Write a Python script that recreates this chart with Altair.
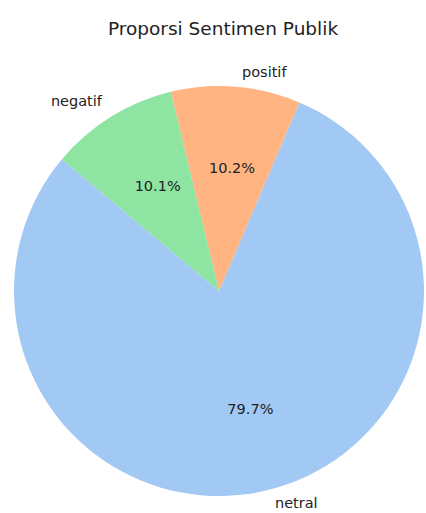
import altair as alt
import pandas as pd

labels = ["netral", "positif", "negatif"]
values = [79.7, 10.2, 10.1]
colors = ["#a1c9f4", "#ffb482", "#8de5a1"]
START_DEG = 140

df = pd.DataFrame({"label": labels, "value": values, "idx": list(range(len(labels)))})

FONT = "DejaVu Sans"
R = 205

base = alt.Chart(df).transform_window(
    cum="sum(value)", sort=[alt.SortField("idx")], frame=[None, 0]
).transform_joinaggregate(
    total="sum(value)"
).transform_calculate(
    a0=f"{START_DEG} + (datum.cum - datum.value) / datum.total * 360",
    a1=f"{START_DEG} + datum.cum / datum.total * 360",
).transform_calculate(
    t0="(90 - datum.a1) * PI / 180",
    t1="(90 - datum.a0) * PI / 180",
    tm="(90 - (datum.a0 + datum.a1) / 2) * PI / 180",
    pct="format(datum.value / datum.total * 100, '.1f') + '%'",
).transform_calculate(
    side="sin(datum.tm) >= 0 ? 'right' : 'left'"
)

arcs = base.mark_arc(outerRadius=R).encode(
    theta=alt.Theta("t0:Q", scale=None),
    theta2="t1:Q",
    color=alt.Color("label:N", scale=alt.Scale(domain=labels, range=colors), legend=None),
)

lab_right = base.transform_filter("datum.side == 'right'").mark_text(
    radius=219, align="left", baseline="middle", fontSize=14.5, font=FONT, color="#222", dx=5
).encode(theta=alt.Theta("tm:Q", scale=None), text="label:N")

lab_left = base.transform_filter("datum.side == 'left'").mark_text(
    radius=222, align="right", baseline="middle", fontSize=14.5, font=FONT, color="#222", dx=0
).encode(theta=alt.Theta("tm:Q", scale=None), text="label:N")

pcts = base.mark_text(
    radius=122, align="center", baseline="middle", fontSize=14.5, font=FONT, color="#222", dx=3
).encode(theta=alt.Theta("tm:Q", scale=None), text="pct:N")

chart = alt.layer(arcs, lab_right, lab_left, pcts).properties(
    width=414,
    height=444,
    padding={"left": 12, "right": 0, "top": 69, "bottom": 0},
    autosize=alt.AutoSizeParams(type="none"),
    background="white",
    title=alt.TitleParams(
        "Proporsi Sentimen Publik", fontSize=18.5, font=FONT, fontWeight="normal",
        color="#222", anchor="middle", offset=26, dx=4
    ),
).configure_view(stroke=None)

chart.save("out.html", embed_options={"renderer": "svg", "actions": False})
